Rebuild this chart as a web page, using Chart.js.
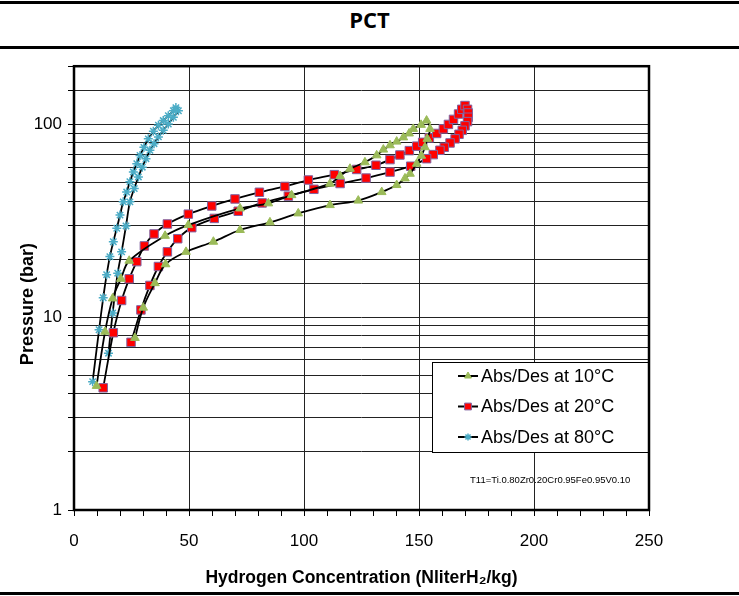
<!DOCTYPE html>
<html>
<head>
<meta charset="utf-8">
<title>PCT</title>
<script src="https://cdn.jsdelivr.net/npm/chart.js@4.4.1/dist/chart.umd.min.js"></script>
<style>
  html, body { margin: 0; padding: 0; background: #fff; }
  body { width: 739px; height: 596px; position: relative; overflow: hidden; }
  .rule { position: absolute; left: 0; width: 739px; height: 3px; background: #000; }
  #title { position: absolute; top: 4px; left: 0; width: 739px; height: 42px; line-height: 40px;
           text-align: center; font: 700 22px "Open Sans", sans-serif; color: #000; }
  #pct { position: absolute; left: 0; top: 50px; }
</style>
</head>
<body>
<div class="rule" style="top:1px"></div>
<div id="title">PCT</div>
<div class="rule" style="top:46px"></div>
<canvas id="pct" width="739" height="540"></canvas>
<div class="rule" style="top:592px"></div>
<script>
// Concentration (Nliter H2/kg) and pressure (bar): absorption branch, then desorption back down
const conc10 = [9.8, 13.5, 16.8, 20.4, 24, 39.6, 49.7, 72.2, 84.5, 94.6, 111.3, 115.7, 120, 126.5, 131.6, 134.5,
                137.4, 140.3, 143.2, 145.7, 147.5, 150.9, 153.3,
                154.8, 153.6, 152.6, 151, 149, 146.1, 143.9, 140.3, 133.8, 123.6, 111.3, 97.5, 85.2, 72.2, 60.6,
                48.7, 39.8, 35.2, 30.1, 26.5];
const pres10 = [4.4, 8.4, 12.5, 15.8, 19.6, 26.4, 30, 36.6, 38.9, 42.9, 49.2, 53.9, 58.8, 63.5, 69, 73.9,
                77.8, 81.3, 85.5, 89.6, 94.6, 99.3, 104.5,
                94.6, 84, 76, 68.7, 62.4, 55.4, 52.4, 48.4, 44.5, 40.2, 38.1, 34.5, 31, 28.3, 24.6,
                21.8, 18.8, 15, 11.2, 7.8];

const conc20 = [12.7, 17.1, 20.7, 24, 27.3, 30.6, 34.8, 40.6, 49.7, 59.9, 70, 80.6, 91.7, 101.9, 113.2, 122.9,
                131.3, 137.4, 141.7, 145.8, 149, 151.6, 154.5, 157.7, 160.6, 162.8, 165, 167.2, 168.6, 170,
                171.1, 171.4, 171.4, 171.1, 170, 168.8, 167.4, 165.7, 163.5, 161, 159.1, 156.2, 153.3, 146.4,
                137.4, 127, 115.7, 104.3, 93.2, 81.8, 71.4, 61, 51.2, 45.1, 40.6, 36.7, 33, 29.1, 24.8];
const pres20 = [4.3, 8.3, 12.2, 15.8, 19.4, 23.4, 27, 30.4, 34.2, 37.7, 41, 44.4, 47.6, 51.4, 54.8, 58.3,
                61.3, 65.6, 69.3, 73, 77, 80.6, 85, 89.6, 94.6, 99.8, 106, 113, 119.5, 125,
                119.5, 114.4, 108.7, 103.2, 98.1, 93, 88.7, 84, 80, 76, 73.3, 69.6, 66.3, 60.6,
                56.5, 52.6, 49.3, 46, 42.4, 39.1, 35.4, 32.5, 29.1, 25.5, 21.8, 18.3, 14.6, 10.9, 7.4];

const conc80 = [8.1, 10.9, 12.7, 14.2, 15.6, 17.1, 18.6, 20, 21.4, 22.9, 24.3, 25.8, 27.3, 28.7, 30.4, 32.3,
                34.5, 36.7, 38.8, 41, 43.2, 44.3,
                45.4, 43.2, 41, 38.8, 36.7, 34.8, 33, 31.3, 29.7, 28, 26.2, 24.3, 22.6, 20.7, 19, 16.8, 15];
const pres80 = [4.63, 8.6, 12.6, 16.6, 20.6, 24.6, 28.9, 33.8, 39.6, 44.5, 50.4, 56.5, 62.5, 68.9, 75.9, 84,
                92, 98.8, 104.5, 110.8, 117.5, 122,
                117.5, 108.7, 100.3, 93, 86, 79.3, 73.3, 66.3, 59.9, 53.3, 46.4, 39.6, 29.7, 21.8, 16.9, 10.5, 6.5];

const seriesLabels = ['Abs/Des at 10°C', 'Abs/Des at 20°C', 'Abs/Des at 80°C'];
const xLabelEvery = 50;
const yLabels = [1, 10, 100];
const alloyNote = 'T11=Ti.0.80Zr0.20Cr0.95Fe0.95V0.10';
const yTitle = 'Pressure (bar)';

const SANS = '"Liberation Sans", Arial, sans-serif';

function toPoints(xs, ys) {
    return xs.map((x, i) => ({ x, y: ys[i] }));
}

function makeSeries(label, xs, ys, marker) {
    return Object.assign({
        label,
        data: toPoints(xs, ys),
        showLine: true,
        borderColor: '#000',
        borderWidth: 1.8,
        tension: 0.35,
        fill: false
    }, marker);
}

// Boxed legend in the lower right of the plot, with the alloy formula under it
const insetLegend = {
    id: 'insetLegend',
    afterDatasetsDraw(chart) {
        const { ctx, chartArea } = chart;
        const w = 217, h = 90;
        const x0 = chartArea.right - w;
        const y0 = chartArea.bottom - 58 - h;
        ctx.save();
        ctx.fillStyle = '#fff';
        ctx.fillRect(x0, y0, w, h);
        ctx.strokeStyle = '#000';
        ctx.lineWidth = 1;
        ctx.strokeRect(x0 + 0.5, y0 + 0.5, w, h);

        chart.data.datasets.forEach((ds, i) => {
            const cy = y0 + 14 + i * 30.5;
            const sx = x0 + 26;
            ctx.strokeStyle = '#000';
            ctx.lineWidth = 2;
            ctx.beginPath();
            ctx.moveTo(sx, cy);
            ctx.lineTo(sx + 20, cy);
            ctx.stroke();

            ctx.fillStyle = ds.pointBackgroundColor;
            ctx.strokeStyle = ds.pointBorderColor;
            ctx.lineWidth = ds.pointBorderWidth;
            Chart.helpers.drawPoint(ctx, {
                pointStyle: ds.pointStyle,
                radius: ds.pointRadius * 0.8,
                borderWidth: ds.pointBorderWidth,
                rotation: 0
            }, sx + 10, cy);

            ctx.fillStyle = '#000';
            ctx.font = '18px ' + SANS;
            ctx.textAlign = 'left';
            ctx.textBaseline = 'middle';
            ctx.fillText(ds.label, x0 + 49, cy + 1);
        });

        ctx.font = '9.5px ' + SANS;
        ctx.fillText(alloyNote, x0 + 38, chartArea.bottom - 30);
        ctx.restore();
    }
};

// Heavy frame round the plot area, and the rotated pressure title
const plotFrame = {
    id: 'plotFrame',
    afterDraw(chart) {
        const { ctx, chartArea: a } = chart;
        ctx.save();
        ctx.strokeStyle = '#000';
        ctx.lineWidth = 2.5;
        ctx.strokeRect(a.left, a.top, a.right - a.left, a.bottom - a.top);

        ctx.translate(28, (a.top + a.bottom) / 2 + 16);
        ctx.rotate(-Math.PI / 2);
        ctx.fillStyle = '#000';
        ctx.font = 'bold 18px ' + SANS;
        ctx.textAlign = 'center';
        ctx.textBaseline = 'middle';
        ctx.fillText(yTitle, 0, 0);
        ctx.restore();
    }
};

const gridColor = '#222';

new Chart(document.getElementById('pct'), {
    type: 'scatter',
    data: {
        datasets: [
            makeSeries(seriesLabels[0], conc10, pres10, {
                pointStyle: 'triangle', pointRadius: 5, pointBorderWidth: 1,
                pointBackgroundColor: '#9BBB59', pointBorderColor: '#9BBB59'
            }),
            makeSeries(seriesLabels[1], conc20, pres20, {
                pointStyle: 'rect', pointRadius: 6, pointBorderWidth: 1,
                pointBackgroundColor: '#FF0000', pointBorderColor: '#8064A2'
            }),
            makeSeries(seriesLabels[2], conc80, pres80, {
                pointStyle: 'star', pointRadius: 4.5, pointBorderWidth: 1.5,
                pointBackgroundColor: '#4BACC6', pointBorderColor: '#4BACC6'
            })
        ]
    },
    options: {
        responsive: false,
        animation: false,
        devicePixelRatio: 1,
        layout: { padding: { left: 0, right: 90, top: 14, bottom: 0 } },
        plugins: {
            legend: { display: false },
            tooltip: { enabled: false }
        },
        scales: {
            x: {
                type: 'linear',
                min: 0,
                max: 250,
                afterFit: scale => { scale.height = 80; },
                border: { display: false },
                grid: {
                    color: c => (c.tick && c.tick.value % xLabelEvery === 0) ? gridColor : 'rgba(0,0,0,0)',
                    tickColor: '#000',
                    tickLength: 6,
                    lineWidth: 1
                },
                ticks: {
                    stepSize: 10,
                    autoSkip: false,
                    maxRotation: 0,
                    padding: 15,
                    color: '#000',
                    font: { family: SANS, size: 17 },
                    callback: v => (v % xLabelEvery === 0 ? String(v) : '')
                },
                title: {
                    display: true,
                    text: 'Hydrogen Concentration (NliterH\u2082/kg)',
                    color: '#000',
                    font: { family: SANS, size: 17.5, weight: 'bold' },
                    padding: { top: 0, bottom: 1 }
                }
            },
            y: {
                type: 'logarithmic',
                min: 1,
                max: 200,
                afterFit: scale => { scale.width = 74; },
                border: { display: false },
                grid: {
                    color: gridColor,
                    tickColor: '#000',
                    tickLength: 6,
                    lineWidth: 1
                },
                ticks: {
                    autoSkip: false,
                    padding: 6,
                    color: '#000',
                    font: { family: SANS, size: 17 },
                    callback: v => (yLabels.includes(v) ? String(v) : '')
                },
                title: { display: false }
            }
        }
    },
    plugins: [insetLegend, plotFrame]
});
</script>
</body>
</html>
